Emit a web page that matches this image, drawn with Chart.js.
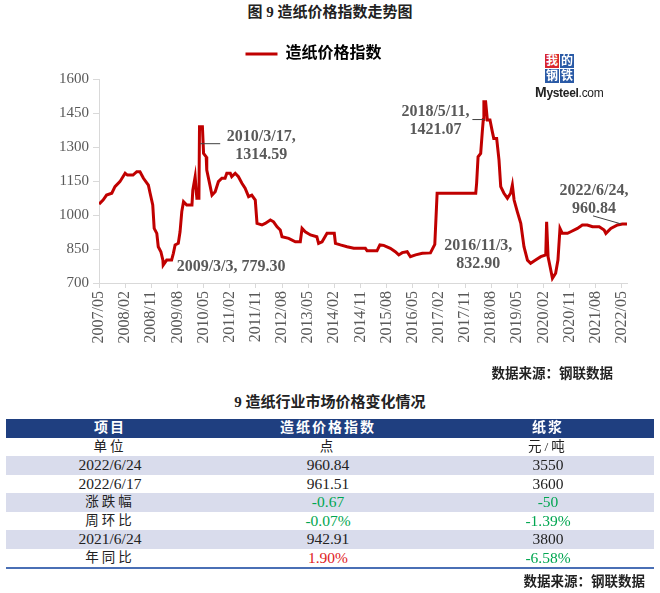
<!DOCTYPE html>
<html>
<head>
<meta charset="utf-8">
<script src="https://cdn.jsdelivr.net/npm/chart.js@4.4.0/dist/chart.umd.min.js"></script>
<style>
  body { margin: 0; width: 660px; height: 593px; background: #fff; position: relative; overflow: hidden;
         font-family: 'Liberation Serif', 'Noto Sans CJK SC', serif; color: #222; }
  .abs { position: absolute; }
  #title { left: 0; width: 660px; top: 3px; text-align: center; font-weight: bold; font-size: 15px; line-height: 18px; }
  #box { left: 0; top: 36px; width: 660px; height: 330px; }
  .src { font-weight: bold; font-size: 13.5px; line-height: 16px; }
  #tblTitle { left: 0; width: 660px; top: 393px; text-align: center; font-weight: bold; font-size: 15px; line-height: 18px; }
  #tbl { left: 6px; top: 419px; width: 648px; border-collapse: collapse; table-layout: fixed; border-bottom: 2px solid #4a6fb5; }
  #tbl td { height: 18.5px; padding: 0; text-align: center; font-size: 15.5px; line-height: 18px; overflow: hidden; white-space: nowrap; }
  #tbl tr.hd td { background: #1f3f80; color: #fff; font-weight: bold; letter-spacing: 2px; font-size: 14px; }
  #tbl tr.shade td { background: #d9dcec; }
  #tbl td.cn { letter-spacing: 3px; font-size: 13.5px; }
  .logo { left: 545px; top: 54px; width: 30px; }
  .sq { position: absolute; width: 14px; height: 14px; color: #fff; font-size: 12px; line-height: 14px; text-align: center; font-weight: bold; }
  #ms { left: 535px; top: 84px; font-family: 'Liberation Sans', sans-serif; font-size: 12px; color: #222; letter-spacing: -0.3px; }
</style>
</head>
<body>
<div id="title" class="abs">图 9 造纸价格指数走势图</div>
<div id="box" class="abs"><canvas id="paperChart"></canvas></div>

<div class="abs logo">
  <div class="sq" style="left:0;top:0;background:#d9262c;">我</div>
  <div class="sq" style="left:15px;top:0;background:#2a5aa6;">的</div>
  <div class="sq" style="left:0;top:15px;background:#2a5aa6;">钢</div>
  <div class="sq" style="left:15px;top:15px;background:#2a5aa6;">铁</div>
</div>
<div id="ms" class="abs"><b style="font-size:14px;">M</b><b>ysteel</b>.com</div>

<div class="abs src" style="right:47px; top:366px;">数据来源：钢联数据</div>
<div id="tblTitle" class="abs">9 造纸行业市场价格变化情况</div>
<table id="tbl" class="abs"><colgroup><col style="width:208px"><col style="width:228px"><col style="width:212px"></colgroup><tbody id="tblBody"></tbody></table>
<div class="abs src" style="right:15px; top:574px;">数据来源：钢联数据</div>

<script>
// months after 2007/05/01 for each traced point, and the index value there
const months = [
  0, 1.4, 2.6, 4.4, 5.5, 7.2, 9, 9.8, 11.7, 13, 14.1, 15.3, 17, 17.6, 18.5, 19, 19.9, 20.4, 21.3, 22, 22.1,
  23.3, 25, 25.6, 26.2, 27.3, 27.9, 28.5, 29.1, 30.2, 32, 32.3, 33.1, 33.5, 33.7, 34.4, 34.6, 35.6, 36, 36.9,
  37.1, 38.3, 38.9, 40, 41.1, 42.3, 43.4, 44, 45.2, 45.7, 46.9, 48, 49.2, 50.3, 51.5, 52.6, 53.8, 54.4, 56.1,
  57.2, 59, 60.1, 61.3, 62.4, 63, 65.3, 67.6, 69.3, 69.9, 71, 72.8, 75, 75.6, 76.8, 78.5, 81, 81.4, 83.1,
  85.4, 87.7, 91.7, 92.3, 95.7, 96.7, 98, 100.3, 102, 103.2, 104.4, 106.1, 107.2, 109, 111.3, 114.1, 115.6,
  116.4, 129.7, 130, 130.5, 131.4, 132, 132.3, 132.5, 133.1, 133.7, 134.6, 135.4, 135.9, 136.9, 137.7, 138.3,
  139.4, 140.6, 141.7, 142.3, 142.9, 144, 145.2, 146.3, 147.5, 148.6, 150.3, 152.1, 153.8, 154.1, 154.6,
  155.3, 156.1, 157.2, 158, 158.7, 159.5, 161.3, 162.4, 164.7, 166.4, 168.1, 169.9, 172.2, 173.9, 174.5,
  176.2, 178.5, 180.2, 181.77
];
const paperIndex = [
  1048, 1066, 1088, 1096, 1125, 1147, 1184, 1176, 1176, 1191, 1191, 1162, 1132, 1096, 1044, 941, 919, 860, 838, 801, 779.3,
  801, 801, 831, 868, 875, 926, 1015, 1059, 1044, 1044, 1110, 1169, 1100, 1074, 1074, 1389, 1389, 1272, 1257,
  1198, 1125, 1088, 1103, 1147, 1162, 1162, 1184, 1184, 1169, 1184, 1169, 1140, 1118, 1081, 1088, 1066, 963, 956,
  963, 978, 970, 948, 934, 904, 897, 882, 882, 941, 926, 912, 904, 875, 882, 919, 919, 875, 868,
  860, 853, 853, 842, 842, 868, 866, 853, 838, 824, 834, 838, 816, 824, 831, 832.9, 870,
  1096, 1096, 1140, 1257, 1272, 1375, 1421.07, 1500, 1500, 1419, 1419, 1368, 1338, 1338, 1243, 1125,
  1096, 1074, 1096, 1132, 1066, 1015, 963, 860, 801, 787, 801, 816, 824, 970, 816,
  772, 721, 743, 801, 941, 919, 919, 926, 941, 956, 956, 948, 948, 934, 919,
  941, 956, 960, 960.84
];
const tickMonths = [0, 9, 18, 27, 36, 45, 54, 63, 72, 81, 90, 99, 108, 117, 126, 135, 144, 153, 162, 171, 180];
const tickLabels = ['2007/05', '2008/02', '2008/11', '2009/08', '2010/05', '2011/02', '2011/11', '2012/08', '2013/05',
  '2014/02', '2014/11', '2015/08', '2016/05', '2017/02', '2017/11', '2018/08', '2019/05', '2020/02', '2020/11',
  '2021/08', '2022/05'];

// labelled points
const noteText = [['2010/3/17,', '1314.59'], ['2009/3/3, 779.30'], ['2018/5/11,', '1421.07'], ['2016/11/3,', '832.90'], ['2022/6/24,', '960.84']];
const noteMonths = [34.5, 22.07, 132.33, 114.07, 181.77];
const noteValues = [1314.59, 779.30, 1421.07, 832.90, 960.84];

// table
const tableHead = ['项目', '造纸价格指数', '纸浆'];
const tableRowNames = ['单位', '2022/6/24', '2022/6/17', '涨跌幅', '周环比', '2021/6/24', '年同比'];
const indexColumn = ['点', '960.84', '961.51', '-0.67', '-0.07%', '942.91', '1.90%'];
const pulpColumn = ['元/吨', '3550', '3600', '-50', '-1.39%', '3800', '-6.58%'];
const changeRows = [3, 4, 6];

const tbody = document.getElementById('tblBody');
let html = '<tr class="hd">' + tableHead.map(h => `<td>${h}</td>`).join('') + '</tr>';
tableRowNames.forEach((name, i) => {
    const cls = i % 2 === 1 ? 'shade' : '';
    const color = v => changeRows.includes(i) ? (v.startsWith('-') ? '#00a650' : '#e01b22') : '#222';
    const cn = v => /[\u4e00-\u9fa5]/.test(v) ? 'cn' : '';
    html += `<tr class="${cls}"><td class="${cn(name)}">${name}</td>` +
        `<td class="${cn(indexColumn[i])}" style="color:${color(indexColumn[i])}">${indexColumn[i]}</td>` +
        `<td class="${cn(pulpColumn[i])}" style="color:${color(pulpColumn[i])}">${pulpColumn[i]}</td></tr>`;
});
tbody.innerHTML = html;

// where each note sits relative to its point (px); lead = leader line [x1,y1,x2,y2]
const notePlacement = [
    { dx: 62, dy: -6.5, lead: [1, 0, 21, 0] },
    { dx: 68, dy: 2 },
    { dx: -48, dy: -7.5, lead: [-11, 0, 1, 0] },
    { dx: 48, dy: -7 },
    { dx: -33, dy: -33, lead: [-34, -8, -6, 0] }
];

const notesPlugin = {
    id: 'notes',
    afterDatasetsDraw(chart) {
        const { ctx, scales: { x, y } } = chart;
        ctx.save();
        ctx.font = 'bold 16px "Liberation Serif"';
        ctx.fillStyle = '#595959';
        ctx.textAlign = 'center';
        ctx.textBaseline = 'middle';
        ctx.strokeStyle = '#404040';
        ctx.lineWidth = 1;
        noteText.forEach((lines, i) => {
            const px = x.getPixelForValue(noteMonths[i]);
            const py = y.getPixelForValue(noteValues[i]);
            const p = notePlacement[i];
            lines.forEach((t, j) => ctx.fillText(t, px + p.dx, py + p.dy + j * 17.5));
            if (p.lead) {
                ctx.beginPath();
                ctx.moveTo(px + p.lead[0], py + p.lead[1]);
                ctx.lineTo(px + p.lead[2], py + p.lead[3]);
                ctx.stroke();
            }
        });
        ctx.restore();
    }
};

const legendGap = {
    id: 'legendGap',
    beforeInit(chart) {
        const fit = chart.legend.fit;
        chart.legend.fit = function () { fit.call(this); this.height += 7; };
    }
};

const ctx = document.getElementById('paperChart').getContext('2d');
new Chart(ctx, {
    type: 'line',
    data: {
        datasets: [{
            label: '造纸价格指数',
            data: months.map((m, i) => ({ x: m, y: paperIndex[i] })),
            borderColor: '#c00000',
            backgroundColor: '#c00000',
            borderWidth: 3,
            pointRadius: 0,
            tension: 0,
            fill: false
        }]
    },
    options: {
        responsive: true,
        maintainAspectRatio: false,
        animation: false,
        layout: { padding: { left: 0, right: 33, top: 0, bottom: 0 } },
        scales: {
            x: {
                type: 'linear',
                min: 0,
                max: 181.77,
                afterBuildTicks: axis => { axis.ticks = tickMonths.map(v => ({ value: v })); },
                afterFit: axis => { axis.height = 83; },
                grid: { drawOnChartArea: false, tickLength: 5, color: '#d9d9d9' },
                border: { color: '#d9d9d9' },
                ticks: {
                    autoSkip: false,
                    maxRotation: 90,
                    minRotation: 90,
                    padding: 3,
                    color: '#595959',
                    font: { family: 'Liberation Serif', size: 16 },
                    callback: (value, index) => tickLabels[index]
                }
            },
            y: {
                min: 700,
                max: 1600,
                afterFit: axis => { axis.width = 99; },
                grid: { drawOnChartArea: false, tickLength: 6, color: '#d9d9d9' },
                border: { color: '#d9d9d9' },
                ticks: {
                    stepSize: 150,
                    padding: 4,
                    color: '#595959',
                    font: { family: 'Liberation Serif', size: 15 },
                    callback: value => String(value)
                }
            }
        },
        plugins: {
            legend: {
                display: true,
                position: 'top',
                labels: {
                    boxWidth: 32,
                    boxHeight: 3,
                    padding: 10,
                    color: '#595959',
                    font: { family: "'Liberation Serif', 'Noto Sans CJK SC'", size: 16, weight: 'bold' },
                    generateLabels: chart => [{
                        text: chart.data.datasets[0].label,
                        fillStyle: '#c00000',
                        strokeStyle: '#c00000',
                        lineWidth: 0,
                        hidden: false,
                        datasetIndex: 0
                    }]
                }
            },
            tooltip: { enabled: false }
        }
    },
    plugins: [notesPlugin, legendGap]
});
</script>
</body>
</html>
